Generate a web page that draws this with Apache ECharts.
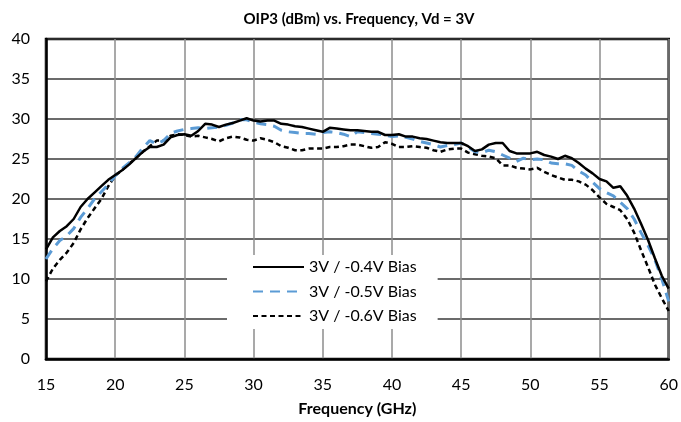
<!DOCTYPE html>
<html>
<head>
<meta charset="utf-8">
<script src="https://cdn.jsdelivr.net/npm/echarts@6/dist/echarts.min.js"></script>
<style>
html,body{margin:0;padding:0;background:#fff;}
#c{width:681px;height:422px;}
</style>
</head>
<body>
<div id="c"></div>
<script>
const title = "OIP3 (dBm) vs. Frequency, Vd = 3V";
const xName = "Frequency (GHz)";
const seriesNames = ["3V / -0.4V Bias", "3V / -0.5V Bias", "3V / -0.6V Bias"];
const freq = [15,15.5,16,16.5,17,17.5,18,18.5,19,19.5,20,20.5,21,21.5,22,22.5,23,23.5,24,24.5,25,25.5,26,26.5,27,27.5,28,28.5,29,29.5,30,30.5,31,31.5,32,32.5,33,33.5,34,34.5,35,35.5,36,36.5,37,37.5,38,38.5,39,39.5,40,40.5,41,41.5,42,42.5,43,43.5,44,44.5,45,45.5,46,46.5,47,47.5,48,48.5,49,49.5,50,50.5,51,51.5,52,52.5,53,53.5,54,54.5,55,55.5,56,56.5,57,57.5,58,58.5,59,59.5,60];
const bias04 = [13.7,15.2,16.0,16.6,17.5,19.0,20.0,20.8,21.6,22.4,23.0,23.6,24.3,25.1,25.9,26.5,26.5,26.8,27.7,28.0,28.1,27.9,28.5,29.4,29.3,29.0,29.3,29.5,29.8,30.1,29.8,29.7,29.8,29.8,29.4,29.3,29.1,29.0,28.8,28.6,28.4,28.9,28.8,28.7,28.6,28.6,28.5,28.4,28.4,28.0,28.0,28.1,27.8,27.8,27.6,27.5,27.3,27.1,27.0,27.0,27.0,26.6,26.0,26.2,26.8,27.0,27.0,26.0,25.7,25.7,25.7,25.9,25.5,25.3,25.0,25.4,25.1,24.5,23.8,23.2,22.5,22.2,21.4,21.6,20.4,18.8,16.9,14.9,12.6,10.4,8.8];
const bias05 = [12.5,13.8,14.8,15.4,16.3,17.7,18.8,20.0,20.9,21.8,22.9,23.8,24.5,25.3,26.4,27.3,26.9,27.3,28.2,28.5,28.7,28.8,28.9,28.8,28.9,29.0,29.2,29.5,29.9,29.9,29.6,29.4,29.3,29.1,28.6,28.4,28.3,28.2,28.2,28.1,28.3,28.4,28.3,28.1,27.8,28.4,28.3,28.2,28.1,28.0,27.8,27.9,27.7,27.5,27.2,27.0,26.8,26.5,26.7,26.8,27.0,26.5,25.9,25.8,26.1,25.9,25.5,25.1,24.7,25.1,24.9,25.0,24.9,24.5,24.4,24.4,24.2,23.5,23.0,22.1,21.3,20.8,20.4,19.6,18.8,17.5,15.8,14.2,12.4,10.0,7.2];
const bias06 = [9.7,11.3,12.4,13.3,14.5,16.2,17.6,18.8,20.0,21.6,22.9,23.6,24.4,25.1,25.9,26.6,27.3,27.3,27.9,28.1,28.0,27.8,27.9,27.7,27.5,27.2,27.6,27.8,27.7,27.4,27.3,27.6,27.4,27.1,26.6,26.4,26.1,26.1,26.3,26.3,26.3,26.5,26.5,26.6,26.8,26.8,26.6,26.4,26.5,27.1,26.9,26.5,26.5,26.6,26.5,26.4,26.1,25.9,26.2,26.3,26.3,25.8,25.6,25.4,25.3,25.1,24.2,24.2,23.9,23.8,23.7,23.9,23.4,23.0,22.7,22.4,22.4,22.2,21.8,21.1,20.2,19.4,19.0,18.6,17.5,15.8,13.6,11.5,9.3,7.6,6.0];

const FONT = "Lato, 'Open Sans', sans-serif";
function pairs(ys){ return freq.map((f,i)=>[f, ys[i]]); }

const chart = echarts.init(document.getElementById('c'), null, {renderer:'canvas'});
chart.setOption({
  animation:false,
  backgroundColor:'#fff',
  title:{
    text:title, left:354, top:7, textAlign:'center',
    textStyle:{fontFamily:FONT, fontSize:15, fontWeight:'bold', color:'#000'}
  },
  grid:{left:46, right:7, top:39, bottom:63, show:true, borderColor:'#000', borderWidth:2.5, backgroundColor:'transparent'},
  legend:{
    orient:'vertical', left:227, top:255,
    backgroundColor:'#fff', padding:[3,21,4,25],
    itemWidth:51, itemHeight:14, itemGap:6.5,
    itemStyle:{opacity:0, borderWidth:0},
    textStyle:{fontFamily:FONT, fontSize:16, color:'#000', lineHeight:18},
    data:seriesNames
  },
  xAxis:{
    type:'value', min:15, max:60, interval:5,
    name:xName, nameLocation:'middle', nameGap:42,
    nameTextStyle:{fontFamily:FONT, fontSize:16, fontWeight:'bold', color:'#000'},
    axisLine:{show:true, lineStyle:{color:'#000', width:2.5}},
    axisTick:{show:false},
    axisLabel:{fontFamily:FONT, fontSize:16, color:'#000', margin:18},
    splitLine:{show:true, lineStyle:{color:'#8c8c8c', width:1.5}}
  },
  yAxis:{
    type:'value', min:0, max:40, interval:5,
    axisLine:{show:true, lineStyle:{color:'#000', width:2.5}},
    axisTick:{show:false},
    axisLabel:{fontFamily:FONT, fontSize:16, color:'#000', margin:16},
    splitLine:{show:true, lineStyle:{color:'#3a3a3a', width:1.5}}
  },
  series:[
    {name:seriesNames[0], type:'line', data:pairs(bias04), symbol:'none', z:5,
     lineStyle:{color:'#000', width:2.5, type:'solid'}, itemStyle:{color:'#000'}},
    {name:seriesNames[1], type:'line', data:pairs(bias05), symbol:'none', z:4,
     lineStyle:{color:'#5b9bd5', width:3, type:[10,7]}, itemStyle:{color:'#5b9bd5'}},
    {name:seriesNames[2], type:'line', data:pairs(bias06), symbol:'none', z:3,
     lineStyle:{color:'#000', width:2.5, type:[5,3.5]}, itemStyle:{color:'#000'}}
  ]
});
</script>
</body>
</html>
